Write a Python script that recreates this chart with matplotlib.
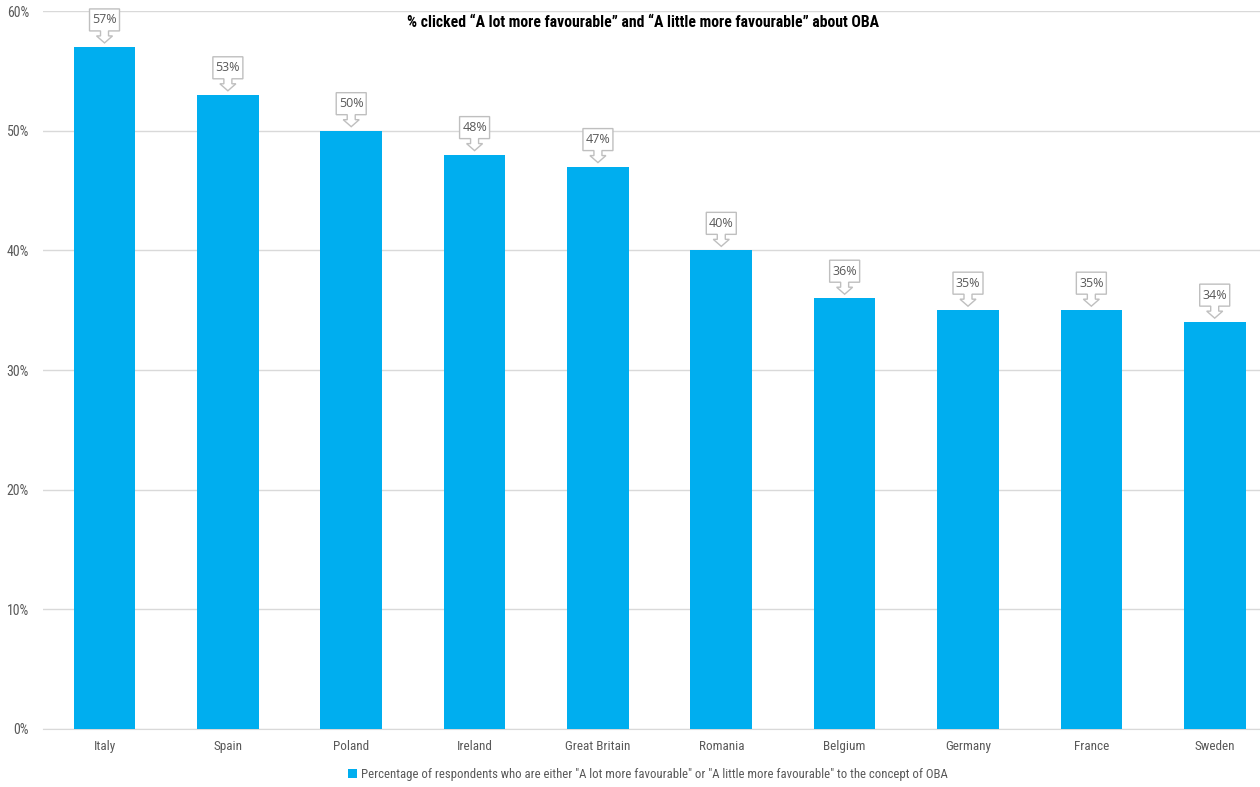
import numpy as np
import matplotlib.pyplot as plt
import matplotlib.transforms as mtransforms
from matplotlib.patches import Polygon
from matplotlib.ticker import PercentFormatter

# Share of respondents favourable to OBA, by country
countries = ['Italy', 'Spain', 'Poland', 'Ireland', 'Great Britain',
             'Romania', 'Belgium', 'Germany', 'France', 'Sweden']
favourable = [57, 53, 50, 48, 47, 40, 36, 35, 35, 34]

title = '% clicked \u201cA lot more favourable\u201d and \u201cA little more favourable\u201d about OBA'
series_name = ('Percentage of respondents who are either "A lot more favourable" '
               'or "A little more favourable" to the concept of OBA')

bar_col = '#00AEEF'
txt_col = '#595959'
cond = ['Liberation Sans Narrow', 'Roboto Condensed', 'Roboto', 'DejaVu Sans']

fig = plt.figure(figsize=(12.6, 7.87), dpi=100)
ax = fig.add_axes([0.034, 0.0737, 0.979, 0.9123])

x = np.arange(len(countries))
bars = ax.bar(x, favourable, width=0.5, color=bar_col, zorder=3, label=series_name)

ax.set_xlim(-0.5, len(countries) - 0.5)
ax.set_ylim(0, 60)
ax.set_yticks(np.arange(0, 61, 10))
ax.yaxis.set_major_formatter(PercentFormatter(decimals=0))
ax.set_xticks(x)
ax.set_xticklabels(countries)
ax.grid(axis='y', color='#D9D9D9', linewidth=1, zorder=0)
for s in ['top', 'right', 'left']:
    ax.spines[s].set_visible(False)
ax.spines['bottom'].set_color('#D9D9D9')
ax.tick_params(length=0, colors=txt_col, labelsize=9.5, pad=8)
ax.tick_params(axis='y', pad=10, labelsize=10)
for lab in ax.get_xticklabels() + ax.get_yticklabels():
    lab.set_family(cond)

# callout boxes with a down arrow pointing at each bar (pixel offsets)
shape = [(-15, 38), (15, 38), (15, 16), (4, 16), (4, 11), (8, 11),
         (0, 4), (-8, 11), (-4, 11), (-4, 16), (-15, 16)]
for xi, v in zip(x, favourable):
    tr = mtransforms.Affine2D() + mtransforms.ScaledTranslation(xi, v, ax.transData)
    ax.add_patch(Polygon(shape, closed=True, facecolor='white', edgecolor='#BFBFBF',
                         linewidth=1, transform=tr, zorder=4, clip_on=False))
    ax.text(0, 27, f'{v}%', transform=tr, ha='center', va='center',
            fontsize=9, color=txt_col, family=['Open Sans', 'DejaVu Sans'], zorder=5)

fig.text(0.51, 0.972, title, ha='center', va='center', fontsize=11.3,
         fontweight='bold', family=cond, color='black')

leg = fig.legend(loc='center', bbox_to_anchor=(0.514, 0.016), frameon=False,
                 fontsize=9.2, handlelength=0.7, handleheight=0.7, handletextpad=0.3)
for t in leg.get_texts():
    t.set_color(txt_col)
    t.set_family(cond)

fig.savefig('out.png', dpi=100)
